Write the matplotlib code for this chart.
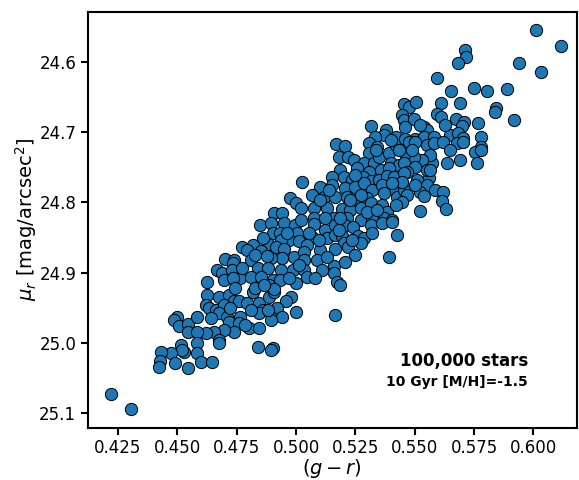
import matplotlib
matplotlib.use("Agg")
import matplotlib.pyplot as plt
import numpy as np

# (g - r) colour and surface brightness mu_r for the sampled stellar population
g_r = [
    0.4219, 0.4303, 0.4497, 0.4485, 0.4506, 0.4543, 0.4543, 0.4514, 0.4527, 0.4518,
    0.4472, 0.4430, 0.4426, 0.4422, 0.4489, 0.4543,
    0.4627, 0.4674, 0.4716, 0.4737, 0.4758, 0.4795, 0.4817, 0.4843, 0.4885, 0.4906,
    0.4977, 0.4956, 0.4623, 0.4632, 0.4661, 0.4695, 0.4859, 0.4918, 0.4843, 0.4674,
    0.4711, 0.4762, 0.4585, 0.4897, 0.5002, 0.4943,
    0.4893, 0.4716, 0.4758, 0.4800, 0.4843, 0.4787, 0.4737, 0.4695, 0.4653, 0.4619,
    0.4585, 0.4674, 0.4674, 0.4585, 0.4838, 0.4901, 0.4893, 0.4585, 0.4598, 0.4648,
    0.4973, 0.5002, 0.4906, 0.4939, 0.4847, 0.4893, 0.4948, 0.4994, 0.4901, 0.4931,
    0.5006, 0.4969, 0.5011, 0.4935, 0.4817, 0.4880, 0.4774, 0.4795, 0.4851, 0.4914,
    0.4948, 0.4990, 0.4943, 0.4893, 0.4809, 0.4703, 0.4737, 0.4733, 0.4838, 0.4880,
    0.4935, 0.4986, 0.4669, 0.4690, 0.4729, 0.4766, 0.4809, 0.4851, 0.4901, 0.4931,
    0.5002, 0.4627, 0.4695, 0.4733, 0.4826, 0.4885, 0.4906,
    0.5314, 0.5377, 0.5369, 0.5331, 0.5306, 0.5306, 0.5419, 0.5170, 0.5208, 0.5179,
    0.5221, 0.5246, 0.5285, 0.5327, 0.5348, 0.5390, 0.5398, 0.5432, 0.5187, 0.5258,
    0.5306, 0.5356, 0.5390, 0.5153, 0.5200, 0.5237, 0.5280, 0.5314, 0.5348, 0.5385,
    0.5411, 0.5027, 0.5103, 0.5153, 0.5208, 0.5250, 0.5285, 0.5322, 0.5364, 0.5411,
    0.5069, 0.5116, 0.5166, 0.5216, 0.5254, 0.5301, 0.5369, 0.5427, 0.5019, 0.5074,
    0.5132, 0.5195, 0.5229, 0.5272, 0.5314, 0.5364, 0.5385, 0.5074, 0.5158, 0.5216,
    0.5272, 0.5322, 0.5369, 0.5406, 0.5343, 0.5419,
    0.5074, 0.5124, 0.5166, 0.5208, 0.5242, 0.5314, 0.5364, 0.5406, 0.5427, 0.5069,
    0.5132, 0.5166, 0.5195, 0.5263, 0.5285, 0.5272, 0.5200, 0.5221, 0.5048, 0.5103,
    0.5166, 0.5250, 0.5390, 0.5032, 0.5032, 0.5090, 0.5032, 0.5111, 0.5158, 0.5158,
    0.5048, 0.5082, 0.5174, 0.5187, 0.5166, 0.5322,
    0.5713, 0.5717, 0.5684, 0.5595, 0.5654, 0.5751, 0.5612, 0.5692, 0.5453, 0.5474,
    0.5507, 0.5448, 0.5453, 0.5495, 0.5595, 0.5612, 0.5675, 0.5709, 0.5700, 0.5768,
    0.5461, 0.5537, 0.5553, 0.5461, 0.5503, 0.5537, 0.5579, 0.5650, 0.5684, 0.5705,
    0.5781,
    0.5474, 0.5503, 0.5553, 0.5579, 0.5621, 0.5679, 0.5705, 0.5777, 0.5755, 0.5777,
    0.5763, 0.5637, 0.5574, 0.5566, 0.5532, 0.5495, 0.5461, 0.5453, 0.5503, 0.5469,
    0.5453, 0.5558, 0.5511, 0.5553, 0.5587, 0.5621, 0.5453, 0.5469, 0.5524, 0.5537,
    0.5448, 0.5616, 0.5633, 0.5524, 0.5490, 0.5553, 0.5448,
    0.6012, 0.6117, 0.5941, 0.6033, 0.5806, 0.5890, 0.5844, 0.5836, 0.5920,
    0.4859, 0.4826, 0.4774, 0.4864, 0.4969, 0.5011, 0.5053, 0.5124, 0.5179, 0.5237,
    0.5297, 0.5343, 0.5229, 0.5137, 0.5095, 0.5132, 0.5208, 0.5419, 0.5335, 0.5432,
    0.5566, 0.5503, 0.5406, 0.5272, 0.5187, 0.5019, 0.4960, 0.4876, 0.4745, 0.4640,
    0.4724, 0.4809, 0.4880, 0.5524, 0.5629, 0.5650, 0.5692, 0.5398, 0.5250, 0.5103,
]

mu_r = [
    25.074, 25.095, 24.963, 24.968, 24.977, 24.974, 24.985, 25.004, 25.014, 25.011,
    25.015, 25.014, 25.026, 25.035, 25.029, 25.036,
    24.932, 24.935, 24.932, 24.940, 24.940, 24.943, 24.928, 24.943, 24.935, 24.928,
    24.935, 24.940, 24.947, 24.951, 24.954, 24.947, 24.954, 24.951, 24.958, 24.958,
    24.963, 24.963, 24.964, 24.965, 24.957, 24.964,
    24.968, 24.971, 24.972, 24.979, 24.979, 24.975, 24.985, 24.982, 24.985, 24.986,
    24.985, 24.997, 25.001, 25.001, 25.007, 25.008, 25.011, 25.015, 25.028, 25.028,
    24.793, 24.801, 24.815, 24.815, 24.832, 24.829, 24.829, 24.832, 24.844, 24.843,
    24.843, 24.854, 24.855, 24.854, 24.861, 24.860, 24.864, 24.868, 24.870, 24.864,
    24.867, 24.878, 24.879, 24.879, 24.882, 24.881, 24.882, 24.886, 24.893, 24.894,
    24.897, 24.897, 24.897, 24.900, 24.897, 24.908, 24.907, 24.907, 24.911, 24.911,
    24.915, 24.914, 24.911, 24.908, 24.922, 24.918, 24.924,
    24.691, 24.697, 24.704, 24.707, 24.715, 24.729, 24.707, 24.717, 24.720, 24.735,
    24.735, 24.740, 24.744, 24.744, 24.735, 24.729, 24.743, 24.747, 24.754, 24.751,
    24.757, 24.753, 24.751, 24.764, 24.764, 24.768, 24.764, 24.770, 24.768, 24.762,
    24.764, 24.771, 24.778, 24.775, 24.780, 24.778, 24.772, 24.782, 24.775, 24.782,
    24.789, 24.792, 24.792, 24.792, 24.797, 24.794, 24.786, 24.792, 24.808, 24.808,
    24.808, 24.810, 24.811, 24.808, 24.801, 24.804, 24.814, 24.822, 24.822, 24.822,
    24.825, 24.822, 24.822, 24.825, 24.721, 24.718,
    24.831, 24.840, 24.832, 24.832, 24.835, 24.832, 24.830, 24.828, 24.847, 24.850,
    24.851, 24.847, 24.848, 24.848, 24.851, 24.858, 24.858, 24.864, 24.861, 24.868,
    24.867, 24.875, 24.878, 24.871, 24.882, 24.882, 24.897, 24.897, 24.890, 24.900,
    24.907, 24.908, 24.914, 24.918, 24.960, 24.844,
    24.582, 24.592, 24.601, 24.622, 24.641, 24.637, 24.658, 24.658, 24.660, 24.664,
    24.657, 24.675, 24.682, 24.681, 24.674, 24.678, 24.681, 24.685, 24.691, 24.687,
    24.692, 24.692, 24.697, 24.710, 24.710, 24.707, 24.707, 24.704, 24.701, 24.708,
    24.707,
    24.714, 24.714, 24.718, 24.715, 24.714, 24.715, 24.714, 24.721, 24.728, 24.725,
    24.744, 24.744, 24.743, 24.732, 24.740, 24.735, 24.730, 24.744, 24.750, 24.757,
    24.758, 24.765, 24.768, 24.775, 24.782, 24.785, 24.782, 24.789, 24.785, 24.791,
    24.800, 24.798, 24.810, 24.812, 24.725, 24.754, 24.771,
    24.554, 24.577, 24.601, 24.614, 24.641, 24.638, 24.665, 24.671, 24.682,
    24.851, 24.875, 24.893, 24.918, 24.908, 24.889, 24.843, 24.822, 24.840, 24.854,
    24.814, 24.811, 24.797, 24.782, 24.854, 24.878, 24.885, 24.804, 24.725, 24.725,
    24.754, 24.775, 24.772, 24.790, 24.822, 24.825, 24.843, 24.877, 24.922, 24.965,
    24.951, 24.954, 24.954, 24.689, 24.689, 24.725, 24.740, 24.711, 24.761, 24.797,
]

n_stars_label = "100,000 stars"
population_label = "10 Gyr [M/H]=-1.5"

fig = plt.figure(figsize=(5.79, 4.80), dpi=100)
ax = fig.add_axes([0.152, 0.109, 0.844, 0.8666])

ax.scatter(g_r, mu_r, s=78, color="#1f77b4", edgecolors="black", linewidths=0.7, zorder=3)

ax.set_xlim(0.4124, 0.6182)
ax.set_ylim(25.1215, 24.5277)

ax.set_xticks([0.425, 0.450, 0.475, 0.500, 0.525, 0.550, 0.575, 0.600])
ax.set_yticks([24.6, 24.7, 24.8, 24.9, 25.0, 25.1])
ax.tick_params(axis="both", labelsize=12, width=1.5, length=5)
for sp in ax.spines.values():
    sp.set_linewidth(1.5)

ax.set_xlabel(r"$(g-r)$", fontsize=14, labelpad=0)
ax.set_ylabel(r"$\mu_r$ [mag/arcsec$^2$]", fontsize=14, labelpad=0)

ax.text(0.90, 0.160, n_stars_label, transform=ax.transAxes, ha="right", va="center",
        fontsize=12, fontweight="bold")
ax.text(0.90, 0.109, population_label, transform=ax.transAxes, ha="right", va="center",
        fontsize=10, fontweight="bold")

fig.savefig("out.png", dpi=100)
